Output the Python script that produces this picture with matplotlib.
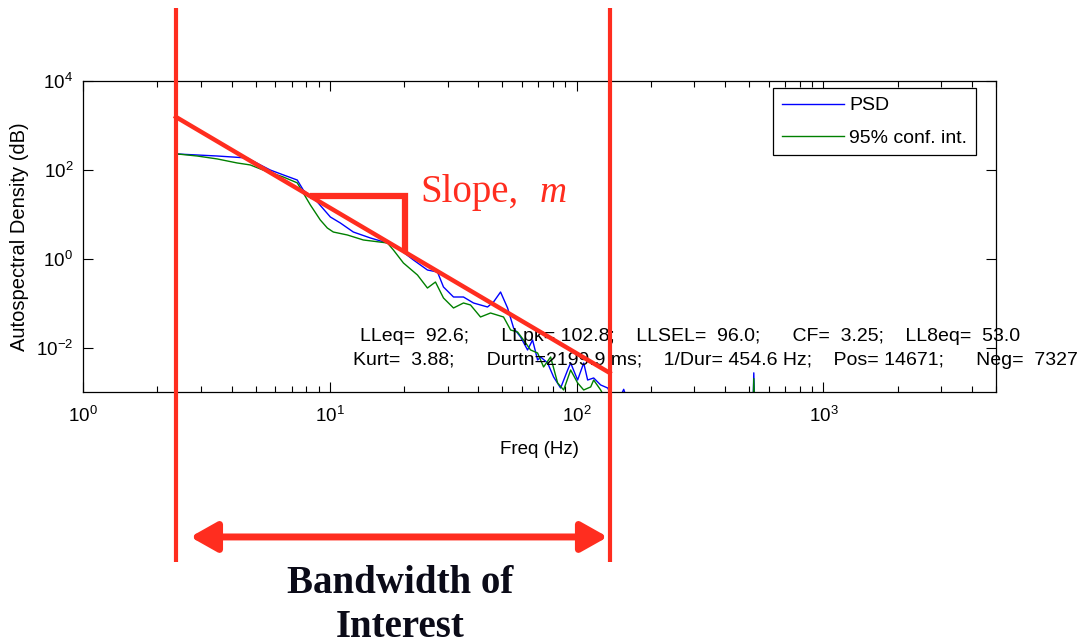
import matplotlib
matplotlib.use("Agg")
import matplotlib.pyplot as plt
from matplotlib.ticker import FixedLocator, LogLocator, NullFormatter, NullLocator

plt.rcParams["font.family"] = ["Liberation Sans", "DejaVu Sans"]
plt.rcParams["mathtext.fontset"] = "custom"
plt.rcParams["mathtext.rm"] = "Liberation Sans"
plt.rcParams["mathtext.it"] = "Liberation Sans:italic"
plt.rcParams["axes.unicode_minus"] = False

# autospectrum and its lower confidence bound
freq_psd = [2.43, 3.50, 4.63, 5.23, 5.74, 6.48, 7.38, 7.81, 8.90, 10.05,
            11.03, 12.45, 14.60, 17.12, 19.32, 21.82, 24.86, 27.30, 28.87, 31.70,
            34.79, 38.20, 43.55, 46.05, 49.17, 52.50, 55.53, 59.27, 63.26, 66.28,
            69.46, 71.45, 76.26, 80.66, 86.11, 91.95, 94.56, 100.9, 106.8, 110.8,
            117.2, 125.1, 133.6, 145, 155.1, 165, 250, 400, 515, 522,
            530, 1000, 5000]
psd = [227, 205, 185, 129, 99, 77, 59, 35, 18.9, 8.69,
       6.37, 3.99, 2.93, 2.26, 1.57, 0.936, 0.557, 0.502, 0.231, 0.1375,
       0.1375, 0.1008, 0.0819, 0.1062, 0.178, 0.0778, 0.0276, 0.0173, 0.00883, 0.0148,
       0.00525, 0.00614, 0.00450, 0.00218, 0.00123, 0.00313, 0.00450, 0.00186, 0.00450, 0.00186,
       0.00207, 0.00144, 0.00123, 0.0005, 0.00115, 0.0004, 0.0002, 0.0001, 0.0001, 0.0027,
       0.0001, 0.00005, 0.00001]

freq_ci = [2.43, 2.90, 3.50, 4.21, 4.76, 5.37, 6.48, 7.38, 7.81, 8.34,
           9.15, 9.77, 10.33, 11.78, 13.67, 17.12, 18.10, 19.87, 22.65, 24.86,
           26.79, 28.87, 31.70, 34.79, 37.15, 40.78, 44.78, 50.56, 54.00, 57.63,
           60.95, 65.06, 69.46, 73.46, 78.43, 83.73, 88.58, 94.56, 100.9, 106.8,
           114.0, 117.2, 125.1, 135, 250, 400, 515, 522, 530, 1000,
           5000]
ci = [227, 205, 176, 143, 129, 99, 69, 51, 30, 16.2,
      7.44, 4.91, 3.99, 3.42, 2.64, 2.26, 1.57, 0.801, 0.430, 0.219,
      0.299, 0.1306, 0.0778, 0.1008, 0.0909, 0.0488, 0.0600, 0.0488, 0.0249, 0.0224,
      0.0148, 0.00883, 0.00755, 0.00366, 0.00614, 0.00160, 0.00111, 0.00313, 0.00160, 0.00111,
      0.00130, 0.00186, 0.00111, 0.0005, 0.0002, 0.0001, 0.0001, 0.0020, 0.0001, 0.00005,
      0.00001]

# band of interest and the straight-line fit across it
band = [2.38, 136.0]
fit_val = [1550, 0.0027]
step_hz = [8.3, 20.2, 20.2]
step_val = [25.8, 25.8, 1.45]

stats_1 = "LLeq=  92.6;      LLpk= 102.8;    LLSEL=  96.0;      CF=  3.25;    LL8eq=  53.0"
stats_2 = "Kurt=  3.88;      Durtn=2199.9 ms;    1/Dur= 454.6 Hz;    Pos= 14671;      Neg=  7327"

RED = "#ff2d1f"
W, H = 1081, 644

fig = plt.figure(figsize=(W / 100, H / 100), dpi=100)
ax = fig.add_axes([83 / W, 1 - 392 / H, 913 / W, 311 / H])

ax.loglog(freq_psd, psd, color="#0000ff", lw=1, label="PSD")
ax.loglog(freq_ci, ci, color="#008000", lw=1, label="95% conf. int.")
ax.set_xlim(1, 5000)
ax.set_ylim(1e-3, 1e4)

ax.xaxis.set_major_locator(FixedLocator([1, 10, 100, 1000]))
ax.xaxis.set_minor_locator(LogLocator(base=10, subs=range(2, 10), numticks=20))
ax.xaxis.set_minor_formatter(NullFormatter())
ax.yaxis.set_major_locator(FixedLocator([1e-2, 1, 1e2, 1e4]))
ax.yaxis.set_minor_locator(NullLocator())
ax.tick_params(which="both", direction="in", top=True, right=True,
               labelsize=13.5, width=0.8)
ax.tick_params(which="major", length=7, pad=7)
ax.tick_params(which="minor", length=4)
ax.tick_params(axis="x", which="major", pad=10)
for s in ax.spines.values():
    s.set_linewidth(0.9)

ax.set_xlabel("Freq (Hz)", fontsize=13.5, labelpad=11)
ax.set_ylabel("Autospectral Density (dB)", fontsize=14.5, labelpad=5)

leg = ax.legend(loc="upper right", bbox_to_anchor=((976 - 83) / 913, (392 - 88) / 311),
                borderaxespad=0, fancybox=False, edgecolor="black", framealpha=1,
                fontsize=14, handlelength=3.2, handletextpad=0.25,
                labelspacing=0.75, borderpad=0.45)
leg.get_frame().set_linewidth(0.9)

ax.text(360 / W, 1 - 341 / H, stats_1, transform=fig.transFigure,
        fontsize=14, va="baseline", zorder=2)
ax.text(353 / W, 1 - 365 / H, stats_2, transform=fig.transFigure,
        fontsize=14, va="baseline", zorder=2)

# bandwidth markers, fit line and slope triangle
for f in band:
    ax.plot([f, f], [1.5e-7, 4.4e5], color=RED, lw=3, clip_on=False,
            solid_capstyle="butt", zorder=6)
ax.plot(band, fit_val, color=RED, lw=3.2, clip_on=False, zorder=6)
ax.plot(step_hz, step_val, color=RED, lw=4.5, clip_on=False,
        solid_joinstyle="miter", solid_capstyle="butt", zorder=6)
ax.annotate("", xy=(133.6, 5.46e-7), xytext=(2.72, 5.46e-7),
            arrowprops=dict(arrowstyle="<|-|>,head_length=0.8,head_width=0.45",
                            color=RED, lw=5, shrinkA=0, shrinkB=0,
                            mutation_scale=20),
            annotation_clip=False, zorder=6)

fig.text(420 / W, 1 - 202 / H, "Slope,", family="Liberation Serif",
         fontsize=28, color=RED, va="baseline")
fig.text(540 / W, 1 - 202 / H, "m", family="Liberation Serif", style="italic",
         fontsize=27, color=RED, va="baseline")

fig.text(400 / W, 1 - 593 / H, "Bandwidth of", family="Liberation Serif",
         weight="bold", fontsize=28, color="#0b0b18", ha="center", va="baseline")
fig.text(400 / W, 1 - 637 / H, "Interest", family="Liberation Serif",
         weight="bold", fontsize=28, color="#0b0b18", ha="center", va="baseline")

fig.savefig("out.png", dpi=100)
